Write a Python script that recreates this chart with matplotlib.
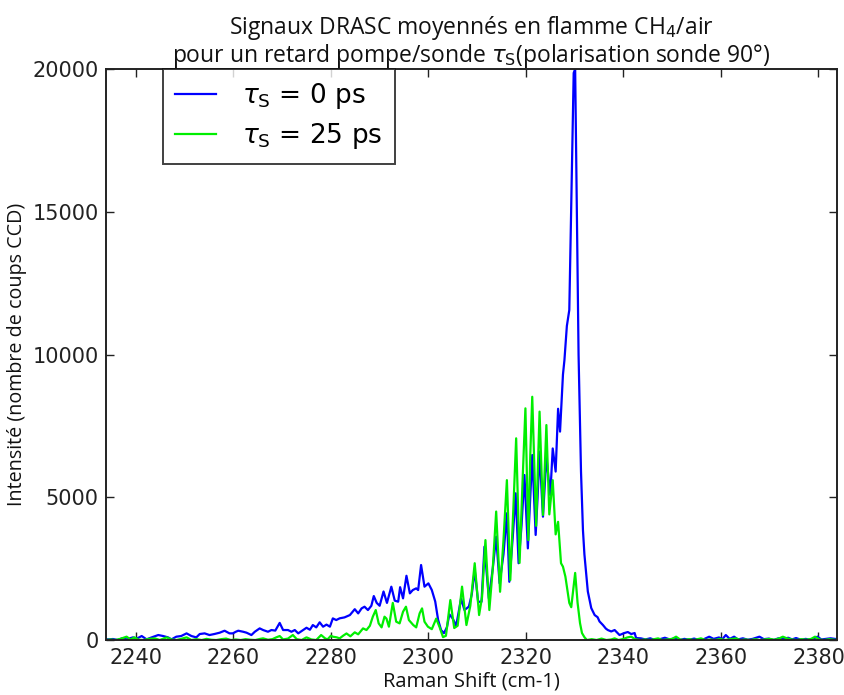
import matplotlib
matplotlib.use("Agg")
import matplotlib.pyplot as plt

# ---------------- data ----------------
blue_x = [2233.8, 2234.3, 2235.3, 2236.3, 2237.2, 2238.1, 2239.4, 2240.2, 2241.2, 2242.2,
          2243.2, 2244.6, 2245.6, 2246.6, 2247.3, 2248.3, 2249.3, 2250.4, 2251.4, 2252.4,
          2253.1, 2254.1, 2255.1, 2256.1, 2257.2, 2258.2, 2259.2, 2259.9, 2260.5, 2261.0,
          2262.0, 2262.7, 2263.7, 2264.4, 2265.4, 2266.1, 2267.1, 2267.8, 2268.6, 2269.5,
          2270.2, 2271.2, 2271.9, 2272.6, 2273.3, 2274.3, 2275.0, 2275.7, 2276.3, 2277.0,
          2277.7, 2278.4, 2279.1, 2279.8, 2280.4, 2281.1, 2281.8, 2282.8, 2283.9, 2284.9,
          2285.6, 2286.3, 2286.9, 2287.6, 2288.3, 2288.8, 2289.4, 2290.0, 2290.8, 2291.5,
          2292.4, 2293.1, 2293.8, 2294.2, 2294.8, 2295.5, 2296.2, 2296.8, 2297.5, 2297.9,
          2298.5, 2299.2, 2300.0, 2300.7, 2301.4, 2302.0, 2302.6, 2303.2, 2303.8, 2304.3,
          2305.0, 2305.7, 2306.7, 2307.4, 2308.3, 2308.9, 2309.5, 2310.2, 2310.9, 2311.5,
          2312.4, 2313.2, 2313.9, 2314.6, 2315.4, 2316.1, 2316.6, 2317.3, 2317.9, 2318.5,
          2319.1, 2319.7, 2320.4, 2320.9, 2321.3, 2322.0, 2322.4, 2322.8, 2323.5, 2323.9,
          2324.2, 2325.0, 2325.5, 2326.1, 2326.6, 2327.0, 2327.6, 2327.9, 2328.4, 2328.9,
          2329.8, 2330.1, 2330.8, 2331.3, 2331.7, 2332.0, 2332.7, 2333.4, 2334.1, 2334.7,
          2335.1, 2335.8, 2336.4, 2336.8, 2337.5, 2338.2, 2339.2, 2340.2, 2340.9, 2341.6,
          2342.3, 2342.6, 2343.6, 2344.5, 2345.5, 2346.5, 2347.5, 2348.5, 2349.5, 2350.5,
          2351.5, 2352.5, 2353.5, 2354.5, 2355.5, 2356.5, 2357.6, 2358.5, 2359.6, 2360.3,
          2361.0, 2361.8, 2362.7, 2363.5, 2364.5, 2365.5, 2366.5, 2367.9, 2368.8, 2369.8,
          2370.8, 2371.8, 2372.8, 2373.8, 2374.6, 2375.4, 2376.4, 2377.4, 2378.4, 2379.8,
          2380.6, 2381.5, 2382.5, 2383.8]
blue_y = [30, 23, 35, 0, 60, 23, 93, 50, 140, 23,
          90, 175, 140, 93, 23, 117, 140, 233, 140, 93,
          210, 233, 175, 210, 257, 326, 233, 233, 290, 326,
          290, 257, 175, 290, 408, 350, 290, 350, 330, 600,
          350, 350, 290, 350, 233, 350, 430, 360, 525, 443,
          620, 467, 540, 467, 758, 700, 760, 793, 875, 1080,
          933, 1108, 1167, 1050, 1200, 1540, 1300, 1200, 1700, 1300,
          1868, 1380, 1342, 1850, 1460, 2250, 1635, 1751, 1810, 1751,
          2627, 1868, 1985, 1751, 1350, 700, 350, 240, 450, 900,
          750, 500, 1450, 1050, 1170, 1600, 2450, 1340, 1340, 3270,
          1460, 2500, 3620, 1990, 3000, 4440, 2040, 3600, 5140, 2690,
          4000, 5780, 3210, 5000, 6480, 3680, 5000, 6600, 4320, 5500,
          6420, 5080, 6710, 5900, 8100, 7300, 9300, 9800, 11000, 11560,
          19860, 20000, 10000, 5900, 3850, 3000, 1700, 1120, 875, 800,
          650, 525, 400, 350, 300, 350, 175, 245, 280, 210,
          245, 70, 58, 20, 60, 0, 30, 80, 20, 60,
          0, 40, 10, 50, 0, 30, 117, 40, 90, 30,
          175, 40, 117, 20, 60, 10, 40, 117, 30, 50,
          0, 60, 30, 80, 20, 70, 10, 40, 0, 117,
          20, 40, 60, 30]

green_x = [2233.8, 2234.8, 2235.8, 2236.8, 2238.1, 2238.9, 2239.7, 2240.6, 2241.6, 2242.6,
           2243.9, 2244.9, 2246.3, 2247.3, 2248.3, 2249.3, 2250.4, 2251.4, 2252.4, 2253.5,
           2254.5, 2255.5, 2256.5, 2257.5, 2258.5, 2259.5, 2260.5, 2261.5, 2262.5, 2263.5,
           2264.5, 2265.5, 2266.1, 2267.1, 2268.0, 2268.8, 2269.5, 2270.2, 2271.2, 2272.2,
           2273.0, 2274.0, 2275.0, 2276.0, 2277.0, 2278.0, 2278.8, 2279.3, 2280.0, 2280.4,
           2281.2, 2281.8, 2282.5, 2283.2, 2284.0, 2284.9, 2285.6, 2286.6, 2287.3, 2288.0,
           2288.6, 2289.2, 2289.8, 2290.4, 2291.0, 2291.4, 2291.9, 2292.7, 2293.4, 2294.1,
           2294.8, 2295.4, 2296.0, 2296.9, 2297.5, 2298.2, 2298.7, 2299.2, 2299.9, 2300.7,
           2301.6, 2302.3, 2303.0, 2303.6, 2304.5, 2305.3, 2306.0, 2306.9, 2307.8, 2308.6,
           2309.5, 2310.4, 2311.0, 2311.7, 2312.5, 2313.2, 2313.9, 2314.7, 2315.4, 2316.1,
           2316.8, 2317.4, 2318.0, 2318.7, 2319.3, 2319.9, 2320.5, 2320.9, 2321.3, 2322.1,
           2322.8, 2323.5, 2324.2, 2324.8, 2325.5, 2326.1, 2326.6, 2327.2, 2327.6, 2328.1,
           2328.9, 2329.3, 2330.1, 2330.6, 2331.1, 2331.5, 2332.0, 2332.5, 2333.5, 2334.5,
           2335.5, 2336.5, 2337.5, 2338.2, 2339.0, 2340.0, 2340.8, 2341.6, 2342.4, 2343.5,
           2344.5, 2345.5, 2346.3, 2347.1, 2348.0, 2349.0, 2350.0, 2350.8, 2351.6, 2352.5,
           2353.5, 2354.5, 2355.9, 2356.8, 2357.8, 2358.8, 2359.8, 2360.8, 2361.8, 2363.1,
           2364.0, 2365.0, 2366.0, 2367.0, 2368.0, 2369.0, 2370.0, 2371.0, 2372.0, 2372.7,
           2373.5, 2374.5, 2375.5, 2376.5, 2377.5, 2378.5, 2379.3, 2380.2, 2381.2, 2382.2,
           2383.8]
green_y = [0, 20, 0, 40, 117, 20, 93, 10, 0, 40,
           58, 0, 93, 20, 0, 40, 93, 0, 30, 0,
           40, 10, 0, 30, 50, 0, 20, 0, 30, 10,
           0, 40, 58, 10, 30, 93, 140, 20, 50, 175,
           30, 0, 93, 20, 0, 175, 60, 20, 150, 117,
           93, 58, 150, 230, 130, 270, 200, 408, 350, 500,
           817, 1050, 583, 443, 817, 750, 467, 1300, 642, 583,
           992, 1167, 700, 525, 443, 933, 1108, 642, 467, 380,
           750, 450, 100, 150, 1400, 420, 500, 1870, 525, 1200,
           2690, 875, 1500, 3500, 1050, 2500, 4500, 1690, 3500, 5600,
           2100, 4500, 7065, 2700, 5500, 8115, 3500, 6500, 8520, 4000,
           8000, 4380, 7530, 4400, 5600, 3700, 4140, 2690, 2570, 2220,
           1300, 1150, 2350, 1300, 590, 245, 100, 0, 30, 0,
           50, 0, 20, 58, 0, 40, 90, 117, 30, 0,
           20, 0, 30, 58, 0, 20, 40, 117, 20, 0,
           30, 0, 58, 0, 20, 0, 40, 0, 30, 58,
           0, 20, 0, 30, 0, 20, 40, 10, 60, 117,
           60, 20, 0, 30, 10, 40, 117, 20, 0, 30,
           0]

labels = [r'$\tau_\mathrm{S}$ = 0 ps', r'$\tau_\mathrm{S}$ = 25 ps']
x_ticks = [2240, 2260, 2280, 2300, 2320, 2340, 2360, 2380]
y_ticks = [0, 5000, 10000, 15000, 20000]

# ---------------- figure ----------------
plt.rcParams['mathtext.fontset'] = 'dejavusans'
fig = plt.figure(figsize=(8.45, 6.95), dpi=100)
ax = fig.add_axes([0.125, 0.0791, 0.8655, 0.8216])

ax.plot(blue_x, blue_y, color='#0000ff', lw=1.6, label=labels[0])
ax.plot(green_x, green_y, color='#00ee00', lw=1.6, label=labels[1])

ax.set_xlim(2233.8, 2383.8)
ax.set_ylim(0, 20000)
ax.set_xticks(x_ticks)
ax.set_yticks(y_ticks)
ax.tick_params(direction='in', top=True, right=True, length=6, width=1,
               labelsize=15, colors='#222222')
ax.tick_params(axis='y', pad=5)
ax.tick_params(axis='x', pad=6)
for lab in ax.get_xticklabels() + ax.get_yticklabels():
    lab.set_family('DejaVu Sans')
for sp in ax.spines.values():
    sp.set_linewidth(1.4)
    sp.set_color('#222222')

ax.set_xlabel('Raman Shift (cm-1)', fontsize=14.5, family='Open Sans',
              color='#111111', labelpad=2)
ax.set_ylabel('Intensité (nombre de coups CCD)', fontsize=14.2, family='Open Sans',
              color='#111111', labelpad=4)
ax.set_title('Signaux DRASC moyennés en flamme CH$_4$/air\n'
             r'pour un retard pompe/sonde $\tau_\mathrm{S}$(polarisation sonde 90°)',
             fontsize=16.5, family='Open Sans', color='#111111', pad=5, linespacing=1.0)

leg = ax.legend(loc='upper left', bbox_to_anchor=(0.078, 1.0), borderaxespad=0,
                frameon=True, fancybox=False, edgecolor='#111111',
                handlelength=1.55, handletextpad=1.0, borderpad=0.47, labelspacing=0.38,
                prop={'family': 'DejaVu Sans', 'size': 19})
leg.get_frame().set_linewidth(1.4)

fig.savefig('out.png', dpi=100)
